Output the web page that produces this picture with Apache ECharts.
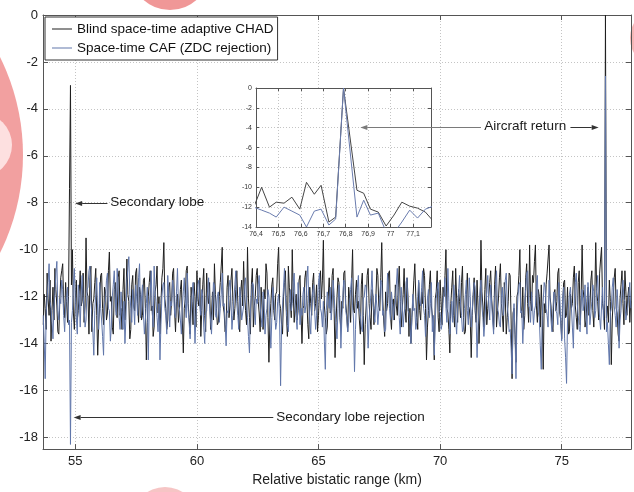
<!DOCTYPE html>
<html><head><meta charset="utf-8">
<script src="https://cdn.jsdelivr.net/npm/echarts@6/dist/echarts.min.js"></script>
<style>html,body{margin:0;padding:0;background:#fff}#c{width:634px;height:492px}</style>
</head><body><div id="c"></div>
<script>
// ---------- data ----------
const seriesNames = ['Blind space-time adaptive CHAD', 'Space-time CAF (ZDC rejection)'];
const xStart = 53.68, xStep = 0.04;           // range sampling (km)
const xTickLabels = [55, 60, 65, 70, 75];
const yTickLabels = [0, -2, -4, -6, -8, -10, -12, -14, -16, -18];

const chadValues = [
-13.2,-11.9,-12.5,-13.4,-11.0,-12.1,-12.8,-11.3,-13.9,-12.6,-11.6,-13.0,-10.8,-11.7,-12.4,-13.5,-13.6,-12.2,-11.2,-10.9,
-10.6,-12.3,-12.9,-11.4,-12.2,-13.1,-12.0,-7.4,-3.0,-11.5,-10.0,-12.7,-13.4,-12.1,-11.3,-13.0,-12.6,-11.8,-10.9,-12.4,
-12.2,-11.0,-13.1,-12.4,-9.5,-11.8,-12.0,-13.6,-11.2,-10.7,-13.5,-12.3,-12.1,-11.4,-10.8,-12.8,-14.5,-13.2,-12.3,-11.1,
-11.0,-12.5,-13.2,-11.6,-11.8,-13.0,-12.7,-10.9,-10.1,-12.2,-12.0,-13.3,-13.6,-11.7,-11.4,-12.6,-12.9,-11.2,-10.9,-12.8,
-12.5,-13.4,-11.7,-10.8,-13.0,-12.1,-10.4,-11.9,-12.2,-13.8,-13.4,-11.5,-11.1,-12.4,-12.6,-11.0,-10.8,-12.3,-13.1,-11.6,
-11.9,-13.0,-12.8,-11.3,-11.2,-12.5,-14.7,-13.1,-12.0,-11.4,-10.9,-12.6,-12.4,-13.7,-13.3,-11.8,-11.5,-10.7,-12.7,-12.0,
-13.6,-12.3,-11.2,-10.8,-9.7,-12.1,-12.5,-13.4,-13.0,-11.6,-11.4,-12.8,-12.2,-11.0,-10.8,-12.6,-13.5,-12.2,-11.9,-13.1,
-12.6,-11.7,-11.3,-13.0,-14.4,-12.5,-12.1,-10.9,-10.7,-12.3,-12.9,-13.6,-11.6,-12.2,-13.2,-11.4,-12.0,-13.3,-10.9,-12.1,
-12.4,-11.2,-13.7,-12.6,-11.5,-10.8,-12.8,-13.5,-11.0,-12.0,-12.3,-11.4,-13.4,-12.7,-11.8,-13.0,-10.6,-11.9,-12.5,-13.2,
-13.1,-12.0,-11.4,-10.7,-9.9,-12.4,-12.7,-13.5,-13.2,-11.6,-11.1,-12.9,-12.4,-11.3,-10.8,-12.2,-13.0,-12.5,-11.7,-10.9,
-12.2,-13.0,-13.5,-11.8,-11.3,-12.4,-10.5,-11.9,-12.6,-13.2,-9.9,-12.1,-12.9,-13.6,-11.5,-10.8,-13.3,-12.4,-12.0,-11.1,
-10.8,-12.2,-12.7,-13.5,-11.6,-12.4,-13.4,-11.7,-12.1,-10.6,-11.0,-12.9,-14.8,-13.0,-12.3,-11.5,-11.2,-12.6,-13.0,-11.9,
-11.8,-10.6,-9.9,-12.3,-12.5,-13.2,-13.6,-12.0,-11.4,-10.9,-12.8,-13.7,-10.7,-11.6,-12.2,-12.9,-10.0,-11.8,-13.1,-12.4,
-11.9,-13.0,-12.6,-11.3,-11.1,-12.7,-14.0,-12.5,-12.4,-11.2,-10.9,-12.1,-13.2,-13.8,-11.6,-12.3,-12.8,-11.4,-11.0,-12.6,
-12.3,-11.5,-13.5,-12.8,-11.7,-10.9,-12.1,-11.3,-9.6,-12.4,-12.9,-13.6,-13.3,-12.0,-11.2,-12.7,-12.6,-11.1,-10.8,-12.5,
-14.6,-13.1,-12.0,-11.2,-11.4,-12.9,-13.4,-12.2,-12.5,-11.0,-10.9,-12.3,-12.8,-13.5,-11.6,-12.1,-13.1,-11.4,-10.0,-12.6,
-12.7,-11.9,-11.3,-12.5,-12.2,-13.0,-13.6,-11.5,-11.0,-12.8,-14.9,-13.2,-12.4,-11.1,-10.8,-12.3,-12.9,-13.4,-11.7,-12.0,
-13.2,-12.5,-12.0,-10.8,-11.1,-12.4,-12.6,-11.2,-9.7,-12.1,-13.0,-13.7,-11.8,-12.6,-12.3,-11.0,-10.9,-12.8,-13.4,-12.2,
-12.1,-13.0,-11.5,-12.4,-12.8,-11.6,-10.7,-12.2,-13.3,-12.6,-11.9,-10.8,-12.5,-13.1,-11.2,-12.0,-13.7,-12.5,-14.0,-12.9,
-12.2,-11.3,-10.6,-12.0,-12.9,-13.4,-11.4,-12.6,-13.0,-11.8,-12.3,-10.8,-11.1,-12.5,-14.7,-13.3,-12.6,-11.5,-10.9,-12.4,
-12.4,-13.2,-14.7,-12.1,-11.8,-10.9,-12.9,-13.5,-11.3,-12.2,-13.2,-11.6,-12.0,-11.1,-10.0,-12.5,-12.7,-13.4,-14.4,-12.3,
-11.6,-10.9,-12.8,-13.3,-10.8,-12.1,-13.1,-11.7,-12.2,-12.9,-11.4,-10.7,-12.9,-13.6,-13.5,-11.9,-11.0,-12.4,-12.5,-13.0,
-14.6,-12.8,-11.9,-11.2,-12.6,-13.1,-11.3,-12.4,-14.0,-12.7,-9.6,-11.8,-12.4,-13.3,-11.7,-10.8,-13.2,-12.5,-12.0,-11.4,
-10.9,-12.1,-12.7,-13.4,-11.5,-10.7,-13.3,-12.6,-12.1,-11.2,-10.6,-12.3,-12.8,-13.5,-11.4,-12.0,-13.6,-12.9,-12.2,-11.0,
-11.1,-13.0,-15.5,-12.7,-12.5,-13.6,-14.8,-12.0,-11.8,-11.1,-10.0,-12.4,-12.9,-11.6,-13.4,-12.8,-11.2,-10.6,-12.3,-13.1,
-9.8,-12.2,-12.6,-11.1,-11.4,-10.5,-9.8,-12.4,-13.1,-11.7,-12.0,-13.3,-11.5,-12.8,-15.1,-12.3,-12.7,-11.5,-11.0,-10.4,
-9.8,-12.0,-12.4,-13.2,-13.5,-11.9,-11.7,-12.6,-12.2,-11.0,-10.8,-12.7,-13.0,-13.8,-12.5,-11.4,-11.3,-12.9,-12.8,-11.6,
-13.6,-13.5,-11.9,-12.5,-12.3,-11.2,-10.7,-12.4,-12.9,-13.4,-11.4,-10.9,-13.2,-12.0,-9.8,-11.7,-12.1,-13.3,-13.0,-12.2,
-11.6,-12.8,-12.5,-11.3,-10.9,-12.6,-13.3,-12.1,-9.7,-11.8,-12.2,-13.0,-11.0,-10.4,-9.9,-12.3,-12.6,-13.4,0,-12.9,
-12.4,-13.1,-11.3,-12.2,-14.9,-13.0,-12.0,-11.2,-10.8,-12.5,-12.7,-13.6,-13.9,-12.1,-11.5,-10.9,-12.3,-13.2,-10.9,-11.8,
-12.8,-12.0,-11.6,-13.1,-12.2
];

const cafValues = [
-12.8,-13.9,-15.5,-12.7,-12.1,-11.4,-10.6,-12.2,-12.5,-13.1,-13.8,-12.4,-11.9,-11.0,-10.5,-12.6,-13.0,-12.1,-12.3,-11.3,
-11.7,-12.8,-13.5,-12.4,-12.0,-11.6,-13.2,-13.0,-18.3,-13.1,-12.6,-11.5,-10.8,-12.3,-12.9,-13.6,-11.5,-12.0,-13.3,-11.9,
-11.1,-12.0,-12.4,-13.3,-13.0,-11.7,-11.6,-10.9,-10.7,-12.2,-12.8,-13.5,-14.5,-12.6,-11.9,-11.2,-12.7,-13.4,-11.4,-12.5,
-13.0,-13.7,-14.5,-12.3,-12.2,-11.3,-11.0,-12.5,-12.6,-13.9,-13.3,-12.0,-11.5,-10.9,-12.1,-12.8,-10.8,-11.6,-12.9,-13.4,
-11.8,-12.6,-13.4,-12.2,-14.0,-12.9,-11.3,-10.8,-10.3,-11.9,-12.5,-13.1,-11.7,-12.4,-13.2,-11.5,-12.0,-12.8,-11.2,-10.6,
-12.9,-12.1,-11.5,-12.7,-13.6,-13.0,-12.3,-11.6,-14.7,-12.4,-11.8,-10.9,-12.6,-13.3,-10.7,-11.8,-12.2,-12.9,-13.5,-12.3,
-14.7,-13.2,-12.0,-11.5,-11.4,-12.5,-12.8,-13.6,-11.1,-12.0,-13.3,-12.2,-12.4,-11.3,-11.6,-12.7,-12.9,-11.8,-10.8,-12.4,
-12.5,-13.0,-13.6,-12.4,-11.8,-11.2,-12.3,-12.9,-11.0,-12.6,-13.1,-13.8,-12.7,-11.9,-11.4,-12.5,-14.0,-12.8,-12.2,-11.5,
-11.3,-12.4,-12.8,-11.7,-12.0,-13.3,-14.0,-12.7,-12.6,-11.8,-11.2,-12.5,-13.0,-13.6,-12.4,-11.4,-11.5,-12.8,-12.9,-12.0,
-11.8,-13.1,-12.5,-11.9,-11.0,-12.4,-12.3,-13.2,-14.1,-12.6,-12.7,-11.6,-11.3,-12.2,-13.4,-12.8,-12.1,-11.5,-10.9,-12.3,
-12.8,-13.4,-11.6,-12.1,-13.0,-12.7,-12.4,-11.5,-11.2,-12.3,-12.9,-13.7,-14.4,-12.5,-12.0,-11.4,-11.5,-12.6,-13.2,-12.1,
-12.3,-11.5,-11.1,-12.4,-12.9,-13.3,-11.8,-12.2,-13.6,-12.8,-12.5,-11.7,-12.0,-13.1,-14.2,-12.9,-11.6,-12.0,-12.7,-13.4,
-13.1,-12.2,-11.9,-13.0,-15.8,-13.3,-12.4,-11.6,-10.8,-12.1,-12.6,-13.2,-13.5,-12.3,-11.7,-12.6,-12.3,-11.4,-11.0,-12.5,
-12.9,-13.4,-11.4,-12.1,-13.2,-12.5,-12.8,-11.9,-11.6,-12.7,-12.4,-11.2,-10.7,-12.3,-13.0,-13.6,-12.2,-11.8,-11.5,-12.6,
-13.4,-12.8,-12.1,-11.4,-11.0,-12.5,-12.7,-13.3,-12.2,-13.9,-15.1,-12.6,-11.8,-12.3,-12.5,-11.6,-13.0,-12.4,-11.3,-12.0,
-12.6,-13.2,-13.8,-12.5,-11.5,-12.2,-14.2,-12.9,-12.0,-11.3,-11.4,-12.6,-12.9,-13.5,-13.1,-12.2,-11.7,-11.2,-12.4,-13.0,
-15.2,-13.4,-12.3,-11.6,-11.1,-12.5,-12.8,-13.3,-13.5,-12.1,-12.0,-11.5,-11.6,-12.7,-14.2,-13.0,-12.4,-11.8,-10.9,-12.2,
-12.7,-13.1,-11.9,-12.4,-13.2,-12.6,-12.1,-11.3,-11.4,-12.8,-12.6,-13.5,-13.4,-12.2,-11.0,-11.7,-12.5,-13.0,-11.8,-12.3,
-13.0,-12.4,-12.2,-11.5,-10.8,-12.0,-12.9,-13.6,-11.6,-12.3,-13.3,-12.7,-12.4,-11.4,-11.2,-12.6,-12.7,-13.2,-14.0,-12.8,
-11.9,-12.6,-12.5,-13.4,-13.1,-12.0,-11.3,-12.2,-12.4,-11.6,-10.9,-12.5,-12.8,-13.7,-13.0,-12.1,-11.7,-12.9,-12.3,-11.4,
-13.5,-12.8,-14.5,-13.0,-12.1,-11.7,-11.4,-12.6,-12.7,-13.4,-13.2,-12.3,-11.8,-11.2,-12.5,-13.1,-10.8,-12.2,-13.6,-12.9,
-12.2,-13.1,-11.5,-12.0,-13.0,-13.6,-12.4,-11.8,-11.1,-12.3,-12.8,-13.5,-13.4,-12.5,-11.9,-11.3,-12.6,-13.2,-11.2,-12.0,
-13.3,-12.6,-12.0,-11.4,-11.6,-12.9,-14.6,-13.2,-12.5,-11.8,-11.3,-12.4,-12.9,-13.7,-13.1,-12.2,-11.8,-11.1,-12.4,-13.0,
-11.5,-12.3,-13.0,-13.6,-12.2,-11.4,-10.9,-12.5,-12.7,-13.2,-13.3,-12.0,-11.6,-12.8,-12.1,-11.3,-11.0,-12.4,-12.8,-13.5,
-13.4,-14.2,-15.3,-13.1,-12.3,-13.6,-15.5,-12.9,-12.0,-11.5,-11.4,-12.7,-12.6,-14.0,-13.0,-12.2,-11.7,-11.0,-10.9,-12.4,
-12.5,-13.1,-11.8,-12.4,-13.2,-12.6,-12.4,-11.5,-11.1,-12.7,-12.9,-14.1,-15.1,-12.8,-12.2,-11.4,-11.6,-12.5,-12.8,-13.3,
-11.3,-12.1,-13.0,-13.5,-12.5,-11.8,-11.9,-12.6,-12.7,-13.2,-11.4,-12.0,-13.1,-13.9,-12.0,-11.6,-13.8,-14.6,-15.7,-13.0,
-12.4,-11.9,-11.6,-12.5,-13.3,-14.2,-12.1,-11.4,-11.0,-12.3,-12.8,-13.4,-13.5,-12.2,-11.7,-12.6,-12.3,-11.5,-12.9,-13.6,
-11.4,-12.0,-13.2,-12.7,-12.2,-11.5,-11.8,-12.9,-12.6,-11.7,-11.1,-12.3,-12.9,-13.4,-12.4,-11.6,-13.0,-12.2,-2.6,-13.5,
-13.1,-14.0,-14.9,-12.7,-12.5,-11.6,-11.2,-12.4,-12.8,-13.3,-11.7,-12.5,-14.2,-13.0,-12.6,-11.8,-11.3,-12.1,-12.2,-13.0,
-13.0,-12.4,-11.9,-11.4,-12.5
];

// inset (zoom on the aircraft return)
const insetX    = [76.39,76.425,76.46,76.49,76.525,76.56,76.595,76.625,76.66,76.69,76.725,76.755,76.79,76.85,76.88,76.91,76.945,76.98,77.015,77.05,77.085,77.12,77.155,77.19];
const insetChad = [-12,-10,-12,-11.5,-11.6,-11,-12.2,-9.5,-10.7,-9.8,-13.5,-13,0,-10.3,-10.6,-12.2,-12.5,-13.9,-12.8,-11.5,-11.9,-12.1,-12.5,-13.4];
const insetCaf  = [-12,-12.3,-12.6,-13,-12,-12.4,-12.8,-14,-12.4,-12.2,-13.8,-13.2,0,-13,-11.3,-12.8,-12.6,-14.5,-14.6,-13.5,-12.3,-13.1,-12.2,-11.9];

// annotations (data coordinates of main axes)
const annotations = [
  {text: 'Secondary lobe', at: [56.44, -8.0], arrows: [[[56.32, -8.0], [54.99, -8.0], '#333']]},
  {text: 'Secondary lobe rejection', at: [63.26, -17.15], arrows: [[[63.14, -17.15], [54.93, -17.15], '#333']]},
  {text: 'Aircraft return', at: [71.82, -4.76], arrows: [[[71.68, -4.76], [66.72, -4.76], '#7a7a7a'], [[75.36, -4.76], [76.52, -4.76], '#333']]}
];

// ---------- chart ----------
const FONT = '"Liberation Sans", Arial, sans-serif';
const frame = '#555';
const dotted = {show: true, lineStyle: {color: '#c4c4c4', type: [1, 2], width: 1}};
const toPairs = vals => vals.map((v, i) => [Math.round((xStart + i * xStep) * 100) / 100, v]);
const zip = (xs, ys) => xs.map((x, i) => [x, ys[i]]);

const chart = echarts.init(document.getElementById('c'), null, {renderer: 'canvas'});

const mainX = (pos, labels) => ({
  gridIndex: 0, type: 'value', min: 53.67, max: 77.85, splitNumber: 5, position: pos,
  axisLine: {show: true, onZero: false, lineStyle: {color: frame, width: 1}},
  axisTick: {show: true, inside: true, length: 5, lineStyle: {color: frame}},
  axisLabel: labels ? {show: true, color: '#222', fontSize: 13, fontFamily: FONT, margin: 6,
    formatter: v => xTickLabels.includes(Math.round(v * 100) / 100) ? String(Math.round(v)) : ''} : {show: false},
  splitLine: labels ? dotted : {show: false},
  name: labels ? 'Relative bistatic range (km)' : '', nameLocation: 'middle', nameGap: 23,
  nameTextStyle: {color: '#222', fontSize: 14, fontFamily: FONT}
});
const mainY = (pos, labels) => ({
  gridIndex: 0, type: 'value', min: -18.5, max: 0, splitNumber: 9, position: pos,
  axisLine: {show: true, onZero: false, lineStyle: {color: frame, width: 1}},
  axisTick: {show: true, inside: true, length: 5, lineStyle: {color: frame}},
  axisLabel: labels ? {show: true, color: '#222', fontSize: 13, fontFamily: FONT, margin: 5,
    formatter: v => yTickLabels.includes(Math.round(v * 100) / 100) ? String(Math.round(v)) : ''} : {show: false},
  splitLine: labels ? dotted : {show: false}
});
const insetLabel = v => {
  const t = Math.round(v * 10);
  if (Math.abs(v * 10 - t) > 1e-6) return '';
  return String(t / 10).replace('.', ',');
};
const insX = (pos, labels) => ({
  gridIndex: 1, type: 'value', min: 76.4, max: 77.18, interval: 0.1, position: pos, z: 2,
  axisLine: {show: true, onZero: false, lineStyle: {color: frame, width: 1}},
  axisTick: {show: true, inside: true, length: 3, lineStyle: {color: frame}},
  axisLabel: labels ? {show: true, color: '#333', fontSize: 7, fontFamily: FONT, margin: 4, formatter: insetLabel} : {show: false},
  splitLine: labels ? dotted : {show: false}
});
const insY = (pos, labels) => ({
  gridIndex: 1, type: 'value', min: -14, max: 0, interval: 2, position: pos, z: 2,
  axisLine: {show: true, onZero: false, lineStyle: {color: frame, width: 1}},
  axisTick: {show: true, inside: true, length: 3, lineStyle: {color: frame}},
  axisLabel: labels ? {show: true, color: '#333', fontSize: 7, fontFamily: FONT, margin: 4} : {show: false},
  splitLine: labels ? dotted : {show: false}
});

const colBlack = '#1f1f1f', colBlue = '#6076aa';

chart.setOption({
  animation: false,
  backgroundColor: '#fff',
  grid: [
    {left: 43, right: 3, top: 15, bottom: 39, containLabel: false},
    {left: 256, right: 203, top: 88, bottom: 265, show: true, backgroundColor: '#fff', borderWidth: 0, z: 1}
  ],
  legend: {
    data: seriesNames, left: 45, top: 17, orient: 'vertical', icon: 'rect',
    itemWidth: 20, itemHeight: 1, itemGap: 5, padding: [5, 4, 5, 7],
    backgroundColor: '#fff', borderColor: '#333', borderWidth: 1, borderRadius: 0,
    textStyle: {color: '#111', fontSize: 13.5, fontFamily: FONT}, z: 20, selectedMode: false
  },
  xAxis: [mainX('bottom', true), mainX('top', false), insX('bottom', true), insX('top', false)],
  yAxis: [mainY('left', true), mainY('right', false), insY('left', true), insY('right', false)],
  series: [
    {name: seriesNames[0], type: 'line', xAxisIndex: 0, yAxisIndex: 0, data: toPairs(chadValues),
     symbol: 'none', color: colBlack, lineStyle: {color: colBlack, width: 1}, z: 3},
    {name: seriesNames[1], type: 'line', xAxisIndex: 0, yAxisIndex: 0, data: toPairs(cafValues),
     symbol: 'none', color: colBlue, lineStyle: {color: colBlue, width: 1}, z: 3},
    {name: 'inset CHAD', type: 'line', xAxisIndex: 2, yAxisIndex: 2, data: zip(insetX, insetChad),
     symbol: 'none', color: '#444', lineStyle: {color: '#444', width: 1}, z: 5, clip: true},
    {name: 'inset CAF', type: 'line', xAxisIndex: 2, yAxisIndex: 2, data: zip(insetX, insetCaf),
     symbol: 'none', color: '#6a7cae', lineStyle: {color: '#6a7cae', width: 1}, z: 5, clip: true}
  ]
});

// ---------- annotations & background blotches ----------
const px = p => chart.convertToPixel({gridIndex: 0}, p);
const g = [];
function addArrow(from, to, color) {
  const a = px(from), b = px(to);
  a[1] = Math.round(a[1]) + 0.5; b[1] = Math.round(b[1]) + 0.5;
  const dx = b[0] - a[0], dy = b[1] - a[1], L = Math.hypot(dx, dy);
  const ux = dx / L, uy = dy / L, hl = 7, hw = 2.6;
  const base = [b[0] - ux * hl, b[1] - uy * hl];
  g.push({type: 'line', z: 100, shape: {x1: a[0], y1: a[1], x2: base[0], y2: base[1]}, style: {stroke: color, lineWidth: 1}});
  g.push({type: 'polygon', z: 100, shape: {points: [[b[0], b[1]], [base[0] - uy * hw, base[1] + ux * hw], [base[0] + uy * hw, base[1] - ux * hw]]}, style: {fill: color}});
}
annotations.forEach(an => {
  const p = px(an.at);
  g.push({type: 'text', z: 100, x: p[0], y: p[1], style: {text: an.text, fill: '#1a1a1a', fontSize: 13.5, fontFamily: FONT, align: 'left', verticalAlign: 'middle'}});
  an.arrows.forEach(ar => addArrow(ar[0], ar[1], ar[2]));
});
// reddish blotches visible at the picture's edges
g.push({type: 'circle', z: -10, shape: {cx: -197, cy: 155, r: 220}, style: {fill: 'rgba(234,96,96,0.6)'}});
g.push({type: 'circle', z: -9, shape: {cx: -20, cy: 145, r: 32}, style: {fill: 'rgba(255,235,235,0.85)'}});
g.push({type: 'circle', z: -10, shape: {cx: 170, cy: -30, r: 40}, style: {fill: 'rgba(232,96,96,0.65)'}});
g.push({type: 'circle', z: -10, shape: {cx: 165, cy: 520, r: 33}, style: {fill: 'rgba(238,140,140,0.5)'}});
g.push({type: 'circle', z: -10, shape: {cx: 660, cy: 38, r: 30}, style: {fill: 'rgba(238,110,110,0.5)'}});
chart.setOption({graphic: g});
</script>
</body></html>
